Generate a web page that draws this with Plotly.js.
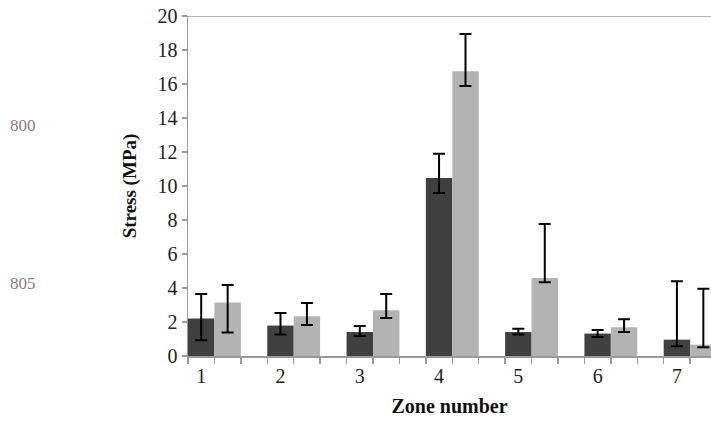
<!DOCTYPE html>
<html>
<head>
<meta charset="utf-8">
<script src="https://cdn.plot.ly/plotly-3.0.1.min.js"></script>
<style>html,body{margin:0;padding:0;background:#fff;}#chart{width:711px;height:424px;}</style>
</head>
<body>
<div id="chart"></div>
<script>
const zones = [1, 2, 3, 4, 5, 6, 7];
const darkValues = [2.2, 1.79, 1.41, 10.47, 1.41, 1.32, 0.96];
const darkErrPlus = [1.45, 0.74, 0.35, 1.43, 0.2, 0.21, 3.43];
const darkErrMinus = [1.28, 0.53, 0.23, 0.88, 0.15, 0.2, 0.39];
const lightValues = [3.14, 2.34, 2.69, 16.75, 4.59, 1.69, 0.67];
const lightErrPlus = [1.04, 0.78, 0.96, 2.19, 3.17, 0.47, 3.29];
const lightErrMinus = [1.76, 0.52, 0.45, 0.87, 0.25, 0.28, 0.16];
const yTicks = [0, 2, 4, 6, 8, 10, 12, 14, 16, 18, 20];

const serif = '"Liberation Serif", "DejaVu Serif", serif';
const bw = 1/3;

const errStyle = {color: '#000', thickness: 2, width: 6};

const traces = [
  {
    type: 'bar', x: zones, y: darkValues, width: bw, offset: -bw/2,
    marker: {color: '#404040'},
    error_y: Object.assign({type: 'data', symmetric: false, array: darkErrPlus, arrayminus: darkErrMinus}, errStyle),
    hoverinfo: 'skip'
  },
  {
    type: 'bar', x: zones, y: lightValues, width: bw, offset: bw/2,
    marker: {color: '#b3b3b3'},
    error_y: Object.assign({type: 'data', symmetric: false, array: lightErrPlus, arrayminus: lightErrMinus}, errStyle),
    hoverinfo: 'skip'
  }
];

const layout = {
  width: 711, height: 424,
  margin: {l: 188, r: 0, t: 16, b: 68},
  paper_bgcolor: '#fff', plot_bgcolor: '#fff',
  barmode: 'overlay',
  showlegend: false,
  font: {family: serif, color: '#222'},
  xaxis: {
    range: [5/6, 7.43],
    tickvals: zones,
    ticktext: zones.map(String),
    ticks: '',
    ticklabelstandoff: 1,
    tickfont: {size: 20, family: serif, color: '#222'},
    showgrid: false, zeroline: false,
    showline: true, linecolor: '#9a9a9a', linewidth: 1.5,
    minor: {tick0: 5/6, dtick: 1/3, ticks: 'outside', ticklen: 6, tickcolor: '#9a9a9a', tickwidth: 1.5, showgrid: false},
    title: {text: 'Zone number', font: {size: 20, family: serif, color: '#111', weight: 'bold'}, standoff: 13}
  },
  yaxis: {
    range: [0, 20],
    tickvals: yTicks,
    ticks: 'outside', ticklen: 5, tickcolor: '#9a9a9a', tickwidth: 1.5,
    tickfont: {size: 20, family: serif, color: '#222'},
    showgrid: false, zeroline: false,
    showline: true, linecolor: '#9a9a9a', linewidth: 1.5,
    title: {text: 'Stress (MPa)', font: {size: 19, family: serif, color: '#111', weight: 'bold'}, standoff: 16}
  },
  shapes: [
    {type: 'line', xref: 'paper', yref: 'y', x0: 0, x1: 1, y0: 20, y1: 20, line: {color: '#9a9a9a', width: 1.5}}
  ],
  annotations: [
    {text: '800', xref: 'paper', yref: 'paper', x: -0.344, y: 0.679, xanchor: 'left', yanchor: 'middle', showarrow: false, font: {family: serif, size: 17, color: '#8a7c7c'}},
    {text: '805', xref: 'paper', yref: 'paper', x: -0.344, y: 0.212, xanchor: 'left', yanchor: 'middle', showarrow: false, font: {family: serif, size: 17, color: '#8a7c7c'}}
  ]
};

Plotly.newPlot('chart', traces, layout, {displayModeBar: false, staticPlot: true});
</script>
</body>
</html>
